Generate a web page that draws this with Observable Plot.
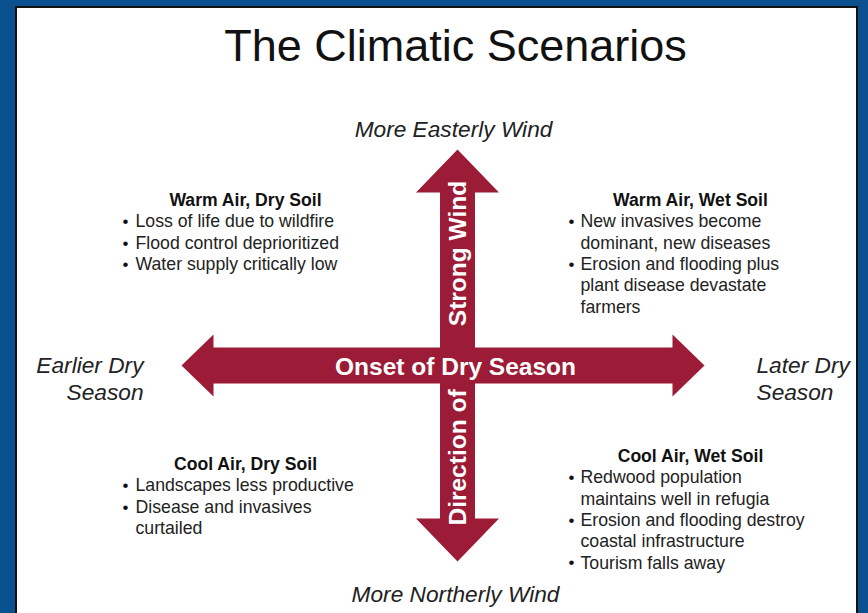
<!DOCTYPE html>
<html>
<head>
<meta charset="utf-8">
<script src="https://cdn.jsdelivr.net/npm/d3@7"></script>
<script src="https://cdn.jsdelivr.net/npm/@observablehq/plot@0.6"></script>
<style>
  html, body { margin: 0; padding: 0; background: #0b5190; overflow: hidden; }
  #chart svg { display: block; }
</style>
</head>
<body>
<div id="chart"></div>
<script>
// ---- Text content ----
const title = "The Climatic Scenarios";
const axisEnds = ["More Easterly Wind", "More Northerly Wind"];
const leftEnd = ["Earlier Dry", "Season"];
const rightEnd = ["Later Dry", "Season"];
const hArrowLabel = "Onset of Dry Season";
const vArrowLabels = ["Strong Wind", "Direction of"];
const headings = ["Warm Air, Dry Soil", "Warm Air, Wet Soil", "Cool Air, Dry Soil", "Cool Air, Wet Soil"];
const bulletsUL = [["Loss of life due to wildfire"], ["Flood control deprioritized"], ["Water supply critically low"]];
const bulletsUR = [["New invasives become", "dominant, new diseases"], ["Erosion and flooding plus", "plant disease devastate", "farmers"]];
const bulletsLL = [["Landscapes less productive"], ["Disease and invasives", "curtailed"]];
const bulletsLR = [["Redwood population", "maintains well in refugia"], ["Erosion and flooding destroy", "coastal infrastructure"], ["Tourism falls away"]];

// ---- Layout (pixel coordinates of the figure) ----
const W = 868, H = 613;
const red = "#9c1b36";
const panel = {x1: 16, x2: 857, y1: 7, y2: 640};
const hArrow = {x1: 181, x2: 704, cy: 365, shaftHalf: 18, headHalf: 31, headLen: 32};
const vArrow = {y1: 149, y2: 561, cx: 457, shaftHalf: 17.5, headHalf: 41.5, headLen: 43};
const quadrants = [
  {heading: headings[0], items: bulletsUL, hx: 245, hy: 200, bx: 125, tx: 135},
  {heading: headings[1], items: bulletsUR, hx: 690, hy: 200, bx: 571, tx: 580},
  {heading: headings[2], items: bulletsLL, hx: 245, hy: 464, bx: 125, tx: 135},
  {heading: headings[3], items: bulletsLR, hx: 690, hy: 456, bx: 571, tx: 580}
];
const lineStep = 21.3;

function hArrowPoly(a) {
  const {x1, x2, cy, shaftHalf: s, headHalf: h, headLen: L} = a;
  return [
    [x1, cy], [x1 + L, cy - h], [x1 + L, cy - s], [x2 - L, cy - s], [x2 - L, cy - h],
    [x2, cy], [x2 - L, cy + h], [x2 - L, cy + s], [x1 + L, cy + s], [x1 + L, cy + h], [x1, cy]
  ].map(([x, y]) => ({x, y}));
}
function vArrowPoly(a) {
  const {y1, y2, cx, shaftHalf: s, headHalf: h, headLen: L} = a;
  return [
    [cx, y1], [cx + h, y1 + L], [cx + s, y1 + L], [cx + s, y2 - L], [cx + h, y2 - L],
    [cx, y2], [cx - h, y2 - L], [cx - s, y2 - L], [cx - s, y1 + L], [cx - h, y1 + L], [cx, y1]
  ].map(([x, y]) => ({x, y}));
}

// quadrant text rows
const headRows = quadrants.map(q => ({x: q.hx, y: q.hy, text: q.heading}));
const bulletRows = [];
const lineRows = [];
for (const q of quadrants) {
  let row = 1;
  for (const item of q.items) {
    bulletRows.push({x: q.bx, y: q.hy + row * lineStep, text: "•"});
    for (const line of item) {
      lineRows.push({x: q.tx, y: q.hy + row * lineStep, text: line});
      row++;
    }
  }
}

const font = "'Liberation Sans', Arial, Helvetica, sans-serif";

const chart = Plot.plot({
  width: W,
  height: H,
  margin: 0,
  x: {domain: [0, W], range: [0, W], axis: null},
  y: {domain: [0, H], range: [0, H], axis: null},
  style: {fontFamily: font, background: "transparent", overflow: "hidden"},
  marks: [
    Plot.rect([panel], {x1: "x1", x2: "x2", y1: "y1", y2: "y2", fill: "white", stroke: "#111", strokeWidth: 2}),
    Plot.text([title], {x: 455, y: 46, text: d => d, fontSize: 45, fill: "#111"}),
    Plot.text([axisEnds[0]], {x: 453, y: 129, text: d => d, fontSize: 22.7, fontStyle: "italic", fill: "#222"}),
    Plot.text([axisEnds[1]], {x: 455, y: 594, text: d => d, fontSize: 22.7, fontStyle: "italic", fill: "#222"}),
    Plot.text(leftEnd, {x: 143, y: (d, i) => 365 + i * 27, text: d => d, fontSize: 22.7, fontStyle: "italic", textAnchor: "end", fill: "#222"}),
    Plot.text(rightEnd, {x: 756, y: (d, i) => 365 + i * 27, text: d => d, fontSize: 22.7, fontStyle: "italic", textAnchor: "start", fill: "#222"}),
    Plot.line(hArrowPoly(hArrow), {x: "x", y: "y", fill: red, stroke: "none", curve: "linear-closed"}),
    Plot.line(vArrowPoly(vArrow), {x: "x", y: "y", fill: red, stroke: "none", curve: "linear-closed"}),
    Plot.text([hArrowLabel], {x: 455, y: 367, text: d => d, fontSize: 24.5, fontWeight: "bold", fill: "white"}),
    Plot.text([vArrowLabels[0]], {x: 458, y: 253, text: d => d, rotate: -90, fontSize: 24.5, fontWeight: "bold", fill: "white"}),
    Plot.text([vArrowLabels[1]], {x: 458, y: 457, text: d => d, rotate: -90, fontSize: 24.5, fontWeight: "bold", fill: "white"}),
    Plot.text(headRows, {x: "x", y: "y", text: "text", fontSize: 17.6, fontWeight: "bold", fill: "#111"}),
    Plot.text(bulletRows, {x: "x", y: "y", text: "text", fontSize: 17, textAnchor: "middle", fill: "#111"}),
    Plot.text(lineRows, {x: "x", y: "y", text: "text", fontSize: 17.7, textAnchor: "start", fill: "#222"})
  ]
});
document.getElementById("chart").appendChild(chart);
</script>
</body>
</html>
